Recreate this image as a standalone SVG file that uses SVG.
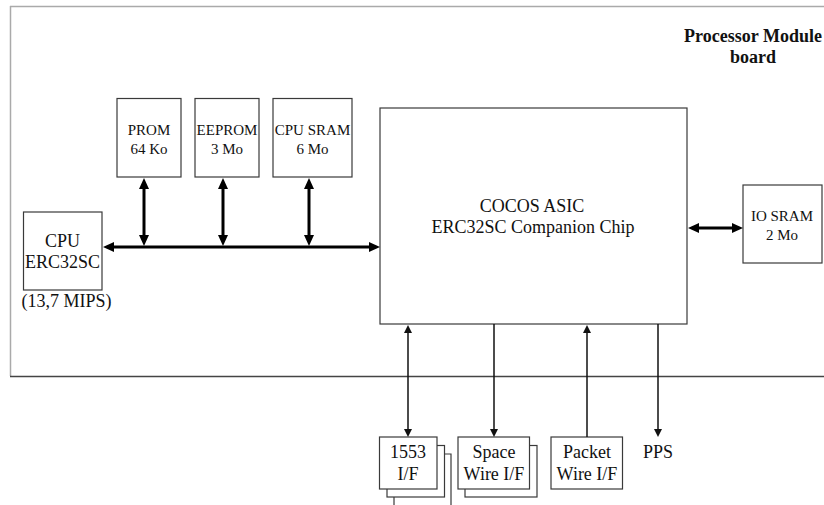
<svg xmlns="http://www.w3.org/2000/svg" width="824" height="505" viewBox="0 0 824 505">
<style>
.box{fill:#fff;stroke:#3a3a3a;stroke-width:1.2}
.t{font-family:"Liberation Serif","Times New Roman",serif;fill:#111;text-anchor:middle}
.s15{font-size:15px}
.s17{font-size:18px}
.b{font-weight:bold;font-size:18px}
.bus{stroke:#000;stroke-width:3;fill:none}
.thin{stroke:#111;stroke-width:1.5;fill:none}
</style>
<defs>
<marker id="ah" markerUnits="userSpaceOnUse" markerWidth="11" markerHeight="10" viewBox="0 0 11 10" refX="3" refY="5" orient="auto-start-reverse">
<path d="M0,0 L11,5 L0,10 z" fill="#000"/>
</marker>
<marker id="at" markerUnits="userSpaceOnUse" markerWidth="8" markerHeight="8" viewBox="0 0 8 8" refX="2" refY="4" orient="auto-start-reverse">
<path d="M0,0 L8,4 L0,8 z" fill="#111"/>
</marker>
</defs>
<rect width="824" height="505" fill="#fff"/>
<g id="board">
<line x1="10" y1="6.5" x2="824" y2="6.5" stroke="#aaa" stroke-width="1.5"/>
<line x1="10.5" y1="6" x2="10.5" y2="376" stroke="#aaa" stroke-width="1.5"/>
<line x1="10" y1="376.5" x2="824" y2="376.5" stroke="#444" stroke-width="1.3"/>
<text class="t b" x="753" y="42">Processor Module</text>
<text class="t b" x="753" y="63">board</text>
</g>
<g id="prom">
<rect class="box" x="117" y="98.5" width="64" height="78.5"/>
<text class="t s15" x="149" y="135">PROM</text>
<text class="t s15" x="149" y="154">64 Ko</text>
</g>
<g id="eeprom">
<rect class="box" x="195" y="98.5" width="64" height="78.5"/>
<text class="t s15" x="227" y="135">EEPROM</text>
<text class="t s15" x="227" y="154">3 Mo</text>
</g>
<g id="cpusram">
<rect class="box" x="273" y="98.5" width="79" height="78.5"/>
<text class="t s15" x="312.5" y="135">CPU SRAM</text>
<text class="t s15" x="312.5" y="154">6 Mo</text>
</g>
<g id="cpu">
<rect class="box" x="23.5" y="212" width="78.5" height="78"/>
<text class="t s17" x="62.5" y="247">CPU</text>
<text class="t s17" x="62.5" y="268">ERC32SC</text>
<text class="t s17" x="66.5" y="307">(13,7 MIPS)</text>
</g>
<g id="cocos">
<rect class="box" x="380" y="108" width="307" height="216"/>
<text class="t s17" x="532" y="212">COCOS ASIC</text>
<text class="t s17" x="533" y="233">ERC32SC Companion Chip</text>
</g>
<g id="iosram">
<rect class="box" x="743" y="185" width="79" height="78"/>
<text class="t s15" x="782" y="221">IO SRAM</text>
<text class="t s15" x="782" y="240">2 Mo</text>
</g>
<g id="if1553">
<polyline class="box" points="394,505 394,454 451,454 451,505" fill="none"/>
<rect class="box" x="387" y="445.5" width="57.5" height="51.5"/>
<rect class="box" x="379.5" y="437" width="57.5" height="52"/>
<text class="t s17" x="408" y="458">1553</text>
<text class="t s17" x="408" y="480">I/F</text>
</g>
<g id="spacewire">
<rect class="box" x="465" y="445.5" width="72" height="51.5"/>
<rect class="box" x="458" y="437" width="71.5" height="52"/>
<text class="t s17" x="494" y="458">Space</text>
<text class="t s17" x="494" y="480">Wire I/F</text>
</g>
<g id="packetwire">
<rect class="box" x="551" y="437" width="71.5" height="52"/>
<text class="t s17" x="587" y="458">Packet</text>
<text class="t s17" x="587" y="480">Wire I/F</text>
</g>
<g id="pps">
<text class="t s17" x="658" y="458">PPS</text>
</g>
<g id="connectors">
<line class="bus" x1="111" y1="247" x2="372" y2="247" marker-start="url(#ah)" marker-end="url(#ah)"/>
<line class="bus" x1="144" y1="186" x2="144" y2="238" marker-start="url(#ah)" marker-end="url(#ah)"/>
<line class="bus" x1="223" y1="186" x2="223" y2="238" marker-start="url(#ah)" marker-end="url(#ah)"/>
<line class="bus" x1="309" y1="186" x2="309" y2="238" marker-start="url(#ah)" marker-end="url(#ah)"/>
<line class="bus" x1="696" y1="228" x2="735" y2="228" marker-start="url(#ah)" marker-end="url(#ah)"/>
<line class="thin" x1="408" y1="331" x2="408" y2="431" marker-start="url(#at)" marker-end="url(#at)"/>
<line class="thin" x1="494" y1="324" x2="494" y2="431" marker-end="url(#at)"/>
<line class="thin" x1="587" y1="437" x2="587" y2="331" marker-end="url(#at)"/>
<line class="thin" x1="658" y1="324" x2="658" y2="431" marker-end="url(#at)"/>
</g>
</svg>
